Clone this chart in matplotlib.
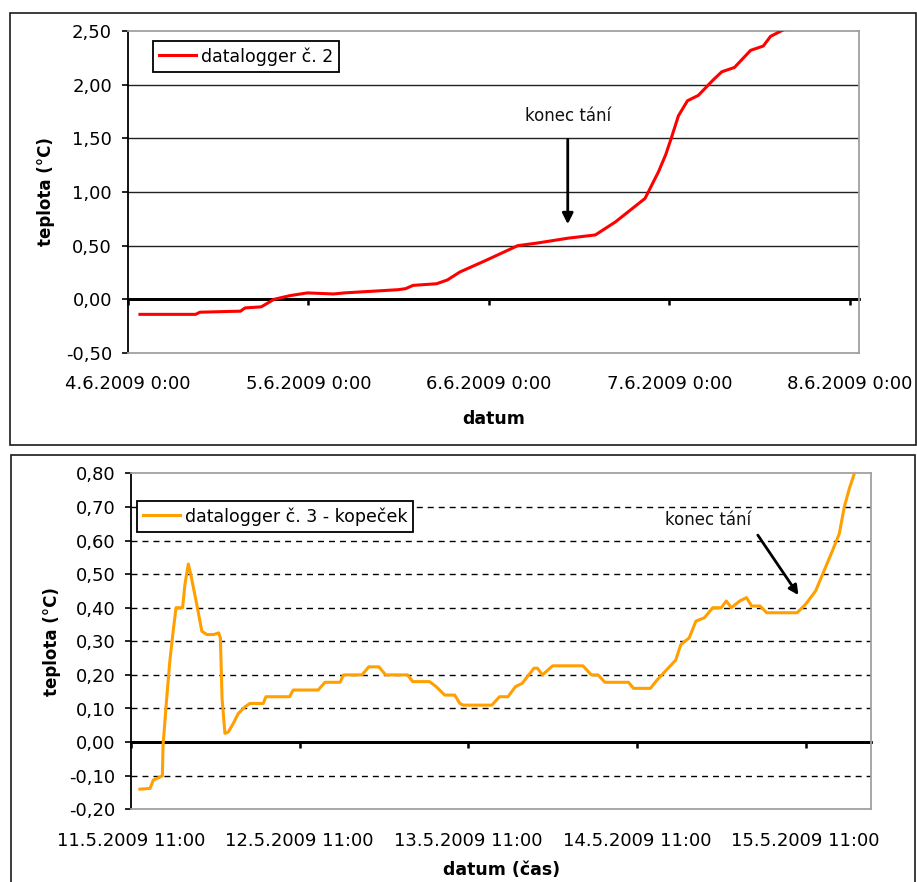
import matplotlib
matplotlib.use("Agg")
import matplotlib.pyplot as plt
from matplotlib.patches import Rectangle

W, H, DPI = 917, 882, 100

# ---------------- data: top panel (days since 4.6.2009 0:00) ----------------
top_days = [0.068, 0.376, 0.40, 0.625, 0.65, 0.74, 0.77, 0.81, 0.90, 0.995,
            1.14, 1.20, 1.30, 1.50, 1.54, 1.58, 1.71, 1.77, 1.84, 1.98,
            2.16, 2.27, 2.44, 2.59, 2.70, 2.865, 2.94, 2.98, 3.01, 3.05,
            3.10, 3.16, 3.24, 3.29, 3.36, 3.45, 3.52, 3.56, 3.63]
top_temp = [-0.14, -0.14, -0.12, -0.11, -0.08, -0.07, -0.04, 0.00, 0.035, 0.06,
            0.05, 0.06, 0.07, 0.09, 0.10, 0.13, 0.145, 0.18, 0.255, 0.36,
            0.50, 0.525, 0.57, 0.60, 0.72, 0.94, 1.19, 1.35, 1.50, 1.71,
            1.85, 1.90, 2.04, 2.12, 2.16, 2.32, 2.36, 2.45, 2.51]
top_xticks = [0, 1, 2, 3, 4]
top_xtick_labels = ["4.6.2009 0:00", "5.6.2009 0:00", "6.6.2009 0:00",
                    "7.6.2009 0:00", "8.6.2009 0:00"]
top_yticks = [-0.5, 0.0, 0.5, 1.0, 1.5, 2.0, 2.5]
top_ytick_labels = ["-0,50", "0,00", "0,50", "1,00", "1,50", "2,00", "2,50"]
top_label = "datalogger č. 2"

# ---------------- data: bottom panel (days since 11.5.2009 11:00) ----------------
bot_days = [0.053, 0.113, 0.132, 0.172, 0.186, 0.19, 0.21, 0.23, 0.25, 0.267,
            0.306, 0.32, 0.34, 0.354, 0.39, 0.42, 0.45, 0.49, 0.52, 0.53,
            0.54, 0.557, 0.577, 0.607, 0.636, 0.676, 0.705, 0.784, 0.80, 0.94,
            0.962, 1.11, 1.15, 1.24, 1.26, 1.37, 1.41, 1.47, 1.51, 1.64,
            1.67, 1.77, 1.81, 1.86, 1.92, 1.95, 1.97, 2.14, 2.185, 2.235,
            2.28, 2.32, 2.39, 2.41, 2.44, 2.50, 2.68, 2.73, 2.77, 2.81,
            2.95, 2.98, 3.08, 3.12, 3.23, 3.26, 3.31, 3.35, 3.40, 3.45,
            3.50, 3.53, 3.56, 3.61, 3.65, 3.68, 3.73, 3.77, 3.95, 4.00,
            4.06, 4.11, 4.16, 4.20, 4.23, 4.26, 4.29]
bot_temp = [-0.14, -0.138, -0.113, -0.104, -0.10, -0.01, 0.12, 0.24, 0.33, 0.40,
            0.40, 0.47, 0.53, 0.50, 0.41, 0.33, 0.32, 0.32, 0.325, 0.31,
            0.13, 0.026, 0.03, 0.056, 0.085, 0.105, 0.115, 0.115, 0.135, 0.135,
            0.155, 0.155, 0.178, 0.178, 0.20, 0.20, 0.224, 0.224, 0.20, 0.20,
            0.18, 0.18, 0.165, 0.14, 0.14, 0.115, 0.11, 0.11, 0.135, 0.135,
            0.165, 0.175, 0.22, 0.22, 0.20, 0.227, 0.227, 0.20, 0.20, 0.178,
            0.178, 0.16, 0.16, 0.185, 0.244, 0.29, 0.31, 0.36, 0.37, 0.40,
            0.40, 0.42, 0.40, 0.42, 0.43, 0.405, 0.405, 0.385, 0.385, 0.41,
            0.45, 0.51, 0.57, 0.62, 0.70, 0.755, 0.80]
bot_xticks = [0, 1, 2, 3, 4]
bot_xtick_labels = ["11.5.2009 11:00", "12.5.2009 11:00", "13.5.2009 11:00",
                    "14.5.2009 11:00", "15.5.2009 11:00"]
bot_yticks = [-0.2, -0.1, 0.0, 0.1, 0.2, 0.3, 0.4, 0.5, 0.6, 0.7, 0.8]
bot_ytick_labels = ["-0,20", "-0,10", "0,00", "0,10", "0,20", "0,30", "0,40",
                    "0,50", "0,60", "0,70", "0,80"]
bot_label = "datalogger č. 3 - kopeček"

ann_text = "konec tání"

plt.rcParams["font.family"] = ["DejaVu Sans"]

fig = plt.figure(figsize=(W / DPI, H / DPI), dpi=DPI)
fig.patch.set_facecolor("white")


def px_rect(x0, y0, x1, y1):
    return [x0 / W, 1 - y1 / H, (x1 - x0) / W, (y1 - y0) / H]


# outer panel borders
for (x0, y0, x1, y1) in [(10, 13, 916, 445), (11, 455, 915, 895)]:
    r = px_rect(x0, y0, x1, y1)
    fig.add_artist(Rectangle((r[0], r[1]), r[2], r[3], transform=fig.transFigure,
                             fill=False, ec="#1a1a1a", lw=1.2, clip_on=False))


def setup(ax, days, temp, color, label, xlim, xticks, xlabels, yticks, ylabels,
          xlabel, dashed, leg_anchor, arrow_tail, arrow_tip, text_xy, head,
          xlabelpad, ylabelpad):
    ax.set_xlim(*xlim)
    ax.set_ylim(yticks[0], yticks[-1])
    # gridlines
    for v in yticks[1:-1]:
        if abs(v) < 1e-9:
            continue
        if dashed:
            ax.axhline(v, color="black", lw=1.0, ls=(0, (4.3, 3.6)), zorder=1)
        else:
            ax.axhline(v, color="#222222", lw=1.0, zorder=1)
    # zero line (category axis)
    ax.axhline(0, color="black", lw=2.0, zorder=2)
    ax.plot(days, temp, color=color, lw=2.2, label=label, zorder=3,
            solid_joinstyle="round")

    for s in ["top", "right", "bottom"]:
        ax.spines[s].set_color("#a0a0a0")
        ax.spines[s].set_linewidth(1.3)
    ax.spines["left"].set_color("black")
    ax.spines["left"].set_linewidth(1.3)

    ax.set_yticks(yticks)
    ax.set_yticklabels(ylabels)
    ax.tick_params(axis="y", direction="out", length=4.3, width=1.2,
                   labelsize=13, pad=7, colors="black")
    ax.set_xticks(xticks)
    ax.set_xticklabels(xlabels)
    ax.tick_params(axis="x", length=0, labelsize=13, pad=16)
    ax.set_xlabel(xlabel, fontsize=12.5, fontweight="bold", labelpad=xlabelpad)
    ax.set_ylabel("teplota (°C)", fontsize=12, fontweight="bold",
                  labelpad=ylabelpad)

    # tick marks on the zero line
    loc = (0 - yticks[0]) / (yticks[-1] - yticks[0])
    sec = ax.secondary_xaxis(loc)
    sec.set_xticks(xticks)
    sec.tick_params(axis="x", direction="out", length=4.5, width=1.8,
                    labelbottom=False, labeltop=False, colors="black")
    for s in sec.spines.values():
        s.set_color("black")
        s.set_linewidth(2.0)

    leg = ax.legend(loc="upper left", bbox_to_anchor=leg_anchor, borderaxespad=0,
                    frameon=True, fancybox=False, edgecolor="black", framealpha=1,
                    fontsize=12.5, handlelength=2.1, handletextpad=0.3,
                    borderpad=0.35)
    leg.get_frame().set_linewidth(1.3)

    ax.annotate("", xy=arrow_tip, xytext=arrow_tail,
                arrowprops=dict(arrowstyle="-|>", color="black", lw=2.0,
                                mutation_scale=head, shrinkA=0, shrinkB=0),
                zorder=4)
    ax.text(text_xy[0], text_xy[1], ann_text, ha="center", va="center",
            fontsize=12, color="#111111")


ax1 = fig.add_axes(px_rect(127.7, 31, 859, 353))
setup(ax1, top_days, top_temp, "#ff0000", top_label, (0, 4.05),
      top_xticks, top_xtick_labels, top_yticks, top_ytick_labels, "datum",
      False, (0.0346, 0.969), (2.437, 1.49), (2.437, 0.70), (2.437, 1.71), 16,
      12, 8)

ax2 = fig.add_axes(px_rect(131, 473.3, 871.3, 809.3))
setup(ax2, bot_days, bot_temp, "#ffa000", bot_label, (0, 4.39),
      bot_xticks, bot_xtick_labels, bot_yticks, bot_ytick_labels, "datum (čas)",
      True, (0.0081, 0.9176), (3.717, 0.616), (3.958, 0.4375), (3.42, 0.66), 14,
      8.5, 5.5)

fig.savefig("out.png", dpi=DPI, facecolor="white")
